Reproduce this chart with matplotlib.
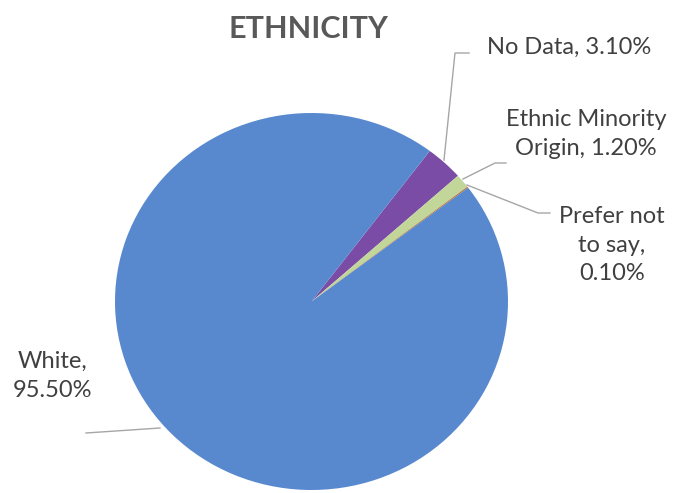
import matplotlib
matplotlib.use("Agg")
import matplotlib.pyplot as plt

categories = ["No Data", "Ethnic Minority Origin", "Prefer not to say", "White"]
values = [3.10, 1.20, 0.10, 95.50]
colors = ["#7A4CA6", "#C2D69A", "#B8703A", "#5889CF"]
title = "ETHNICITY"

W, H = 678, 493
fig = plt.figure(figsize=(W / 100, H / 100), dpi=100)
plt.rcParams['font.family'] = ['Lato', 'DejaVu Sans']

# pie axes (pixel box of the pie)
px0, py0, px1, py1 = 115, 113, 508, 490
pax = fig.add_axes([px0 / W, 1 - py1 / H, (px1 - px0) / W, (py1 - py0) / H])
wedges, _ = pax.pie(values, colors=colors, startangle=53, counterclock=False,
                    wedgeprops=dict(linewidth=0))
pax.set_aspect('auto')
pax.set_xlim(-1, 1)
pax.set_ylim(-1, 1)
pax.axis('off')

# overlay axes in pixel coordinates
ax = fig.add_axes([0, 0, 1, 1], zorder=3)
ax.set_xlim(0, W)
ax.set_ylim(H, 0)
ax.axis('off')
ax.patch.set_alpha(0)

txt = "#404040"
line_c = "#A6A6A6"
fs = 17
ls = 1.45

ax.text(308, 29, title, ha='center', va='center', fontsize=22, fontweight='bold', color="#595959")

ax.text(487, 47, f"{categories[0]}, {values[0]:.2f}%", ha='left', va='center', fontsize=fs, color=txt)
ax.plot([469, 455, 444], [53, 53, 160], color=line_c, lw=1)

ax.text(586, 134, f"Ethnic Minority\nOrigin, {values[1]:.2f}%", ha='center', va='center', fontsize=fs,
        color=txt, linespacing=ls, multialignment='center')
ax.plot([506, 495, 463], [163, 163, 179], color=line_c, lw=1)

ax.text(612, 245, f"Prefer not\nto say,\n{values[2]:.2f}%", ha='center', va='center', fontsize=fs,
        color=txt, linespacing=ls, multialignment='center')
ax.plot([550, 538, 467], [213, 213, 185], color=line_c, lw=1)

ax.text(53, 376, f"White,\n{values[3]:.2f}%", ha='center', va='center', fontsize=fs,
        color=txt, linespacing=ls, multialignment='center')
ax.plot([86, 160], [433, 428], color=line_c, lw=1)

fig.savefig("out.png", dpi=100)
